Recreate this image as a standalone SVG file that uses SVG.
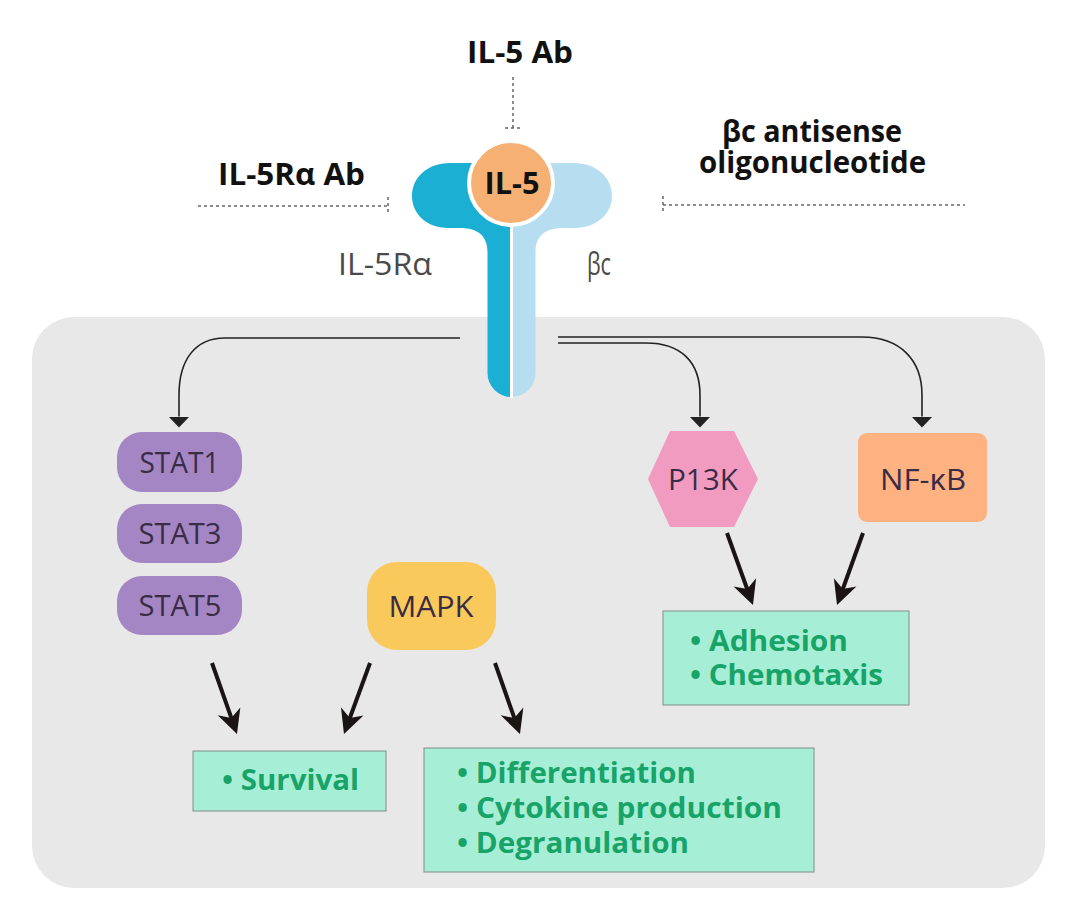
<svg xmlns="http://www.w3.org/2000/svg" width="1080" height="914" viewBox="0 0 1080 914">
<style>
.bold{font-family:"Open Sans","Liberation Sans",sans-serif;font-weight:700;fill:#111}
.reg{font-family:"Open Sans","Liberation Sans",sans-serif;font-weight:400}
.lbl{fill:#4a4a4a;font-size:31px}
.node{fill:#3a2c45;font-size:29px}
.out{font-family:"Open Sans","Liberation Sans",sans-serif;font-weight:700;fill:#18a468;font-size:29px}
.outbox{fill:#a7eed6;stroke:#7f8c88;stroke-width:1}
.dash{stroke:#666;stroke-width:1.5;stroke-dasharray:3 3;fill:none}
.thin{stroke:#222;stroke-width:1.6;fill:none}
.thick{stroke:#1a1414;stroke-width:4;fill:none}
</style>
<defs>
<marker id="tri" viewBox="0 -11 12 22" refX="0" refY="0" markerWidth="12" markerHeight="22" markerUnits="userSpaceOnUse" orient="auto">
<path d="M0,-10.5 L11,0 L0,10.5 Z" fill="#222"/>
</marker>
<marker id="barb" viewBox="-13 -13 26 26" refX="0" refY="0" markerWidth="26" markerHeight="26" markerUnits="userSpaceOnUse" orient="auto">
<path d="M12,0 L-12,-12 L-5,0 L-12,12 Z" fill="#1a1414"/>
</marker>
</defs>
<rect width="1080" height="914" fill="#ffffff"/>
<rect id="cell" x="32" y="317" width="1013" height="571" rx="42" fill="#e8e8e8"/>

<g id="receptor">
<path d="M511.5 163 L511.5 397 A24 24 0 0 1 487.5 373 L487.5 252 C487.5 236 478 228 460 228 L448 228 C427 228 412 214 412 196 C412 177 428 163 450 163 Z" fill="#1bb0d3"/>
<path d="M511.5 163 L511.5 397 A24 24 0 0 0 535.5 373 L535.5 252 C535.5 236 545 228 563 228 L575 228 C596 228 612 214 612 196 C612 177 596 163 574 163 Z" fill="#b6ddf0"/>
<line x1="511.5" y1="200" x2="511.5" y2="398" stroke="#ffffff" stroke-width="3"/>
<text class="reg lbl" x="338" y="275" textLength="94" lengthAdjust="spacingAndGlyphs">IL-5Rα</text>
<text class="reg lbl" x="587" y="275" textLength="24" lengthAdjust="spacingAndGlyphs">βc</text>
</g>
<g id="il5">
<circle cx="511" cy="183" r="42" fill="#f6b073" stroke="#ffffff" stroke-width="4"/>
<text class="bold" x="512" y="194" font-size="30" text-anchor="middle" textLength="55" lengthAdjust="spacingAndGlyphs">IL-5</text>
</g>

<g id="inhibitors">
<g id="il5ab">
<text class="bold" x="520" y="63" font-size="30" text-anchor="middle" textLength="106" lengthAdjust="spacingAndGlyphs">IL-5 Ab</text>
<path class="dash" d="M513 77 L513 128 M505 128 L521 128"/>
</g>
<g id="il5raab">
<text class="bold" x="291.5" y="185" font-size="30" text-anchor="middle" textLength="147" lengthAdjust="spacingAndGlyphs">IL-5Rα Ab</text>
<path class="dash" d="M198 206 L388 206 M388 197 L388 215"/>
</g>
<g id="bcaso">
<text class="bold" x="812" y="142" font-size="30" text-anchor="middle" textLength="180" lengthAdjust="spacingAndGlyphs">βc antisense</text>
<text class="bold" x="812.5" y="173" font-size="30" text-anchor="middle" textLength="227" lengthAdjust="spacingAndGlyphs">oligonucleotide</text>
<path class="dash" d="M663 205 L965 205 M663 196 L663 214"/>
</g>
</g>

<g id="stat1"><rect x="117" y="432" width="125" height="60" rx="25" fill="#a486c4"/><text class="reg node" x="179.5" y="473" text-anchor="middle" textLength="80" lengthAdjust="spacingAndGlyphs">STAT1</text></g>
<g id="stat3"><rect x="117" y="504" width="125" height="59" rx="25" fill="#a486c4"/><text class="reg node" x="180" y="544" text-anchor="middle" textLength="83" lengthAdjust="spacingAndGlyphs">STAT3</text></g>
<g id="stat5"><rect x="117" y="576" width="125" height="59" rx="25" fill="#a486c4"/><text class="reg node" x="180" y="616" text-anchor="middle" textLength="83" lengthAdjust="spacingAndGlyphs">STAT5</text></g>
<g id="mapk"><rect x="367" y="562" width="129" height="88" rx="30" fill="#f9c95b"/><text class="reg node" x="431" y="617" text-anchor="middle" textLength="85" lengthAdjust="spacingAndGlyphs">MAPK</text></g>
<g id="pi3k"><polygon points="648,479 670,431 734,431 758,479 734,527 670,527" fill="#f19bc1"/><text class="reg node" x="703" y="490" text-anchor="middle" textLength="70" lengthAdjust="spacingAndGlyphs">P13K</text></g>
<g id="nfkb"><rect x="858" y="433" width="129" height="89" rx="9" fill="#feb282"/><text class="reg node" x="923" y="490" text-anchor="middle" textLength="86" lengthAdjust="spacingAndGlyphs">NF-κB</text></g>

<g id="survival"><rect class="outbox" x="193" y="751" width="193" height="60"/><text class="out" x="222" y="790" textLength="137" lengthAdjust="spacingAndGlyphs">• Survival</text></g>
<g id="differentiation"><rect class="outbox" x="424" y="748" width="390" height="124"/>
<text class="out" x="457" y="783" textLength="239" lengthAdjust="spacingAndGlyphs">• Differentiation</text>
<text class="out" x="457" y="818" textLength="325" lengthAdjust="spacingAndGlyphs">• Cytokine production</text>
<text class="out" x="457" y="853" textLength="232" lengthAdjust="spacingAndGlyphs">• Degranulation</text></g>
<g id="adhesion"><rect class="outbox" x="663" y="611" width="246" height="94"/>
<text class="out" x="690" y="651" textLength="158" lengthAdjust="spacingAndGlyphs">• Adhesion</text>
<text class="out" x="690" y="685" textLength="193" lengthAdjust="spacingAndGlyphs">• Chemotaxis</text></g>

<g id="connectors">
<path class="thin" d="M460 338 L225 338 C195 338 179 360 179 395 L179 416.5" marker-end="url(#tri)"/>
<path class="thin" d="M558 343 L646 343 C681 343 700 362 700 395 L700 416.5" marker-end="url(#tri)"/>
<path class="thin" d="M558 337 L862 337 C900 337 922 360 922 395 L922 416.5" marker-end="url(#tri)"/>
<line class="thick" x1="212" y1="663" x2="233" y2="722.7" marker-end="url(#barb)"/>
<line class="thick" x1="370" y1="663" x2="348.1" y2="722.7" marker-end="url(#barb)"/>
<line class="thick" x1="495" y1="663" x2="516" y2="722.7" marker-end="url(#barb)"/>
<line class="thick" x1="727" y1="533" x2="748.9" y2="593.7" marker-end="url(#barb)"/>
<line class="thick" x1="863" y1="533" x2="841.1" y2="593.7" marker-end="url(#barb)"/>
</g>
</svg>
